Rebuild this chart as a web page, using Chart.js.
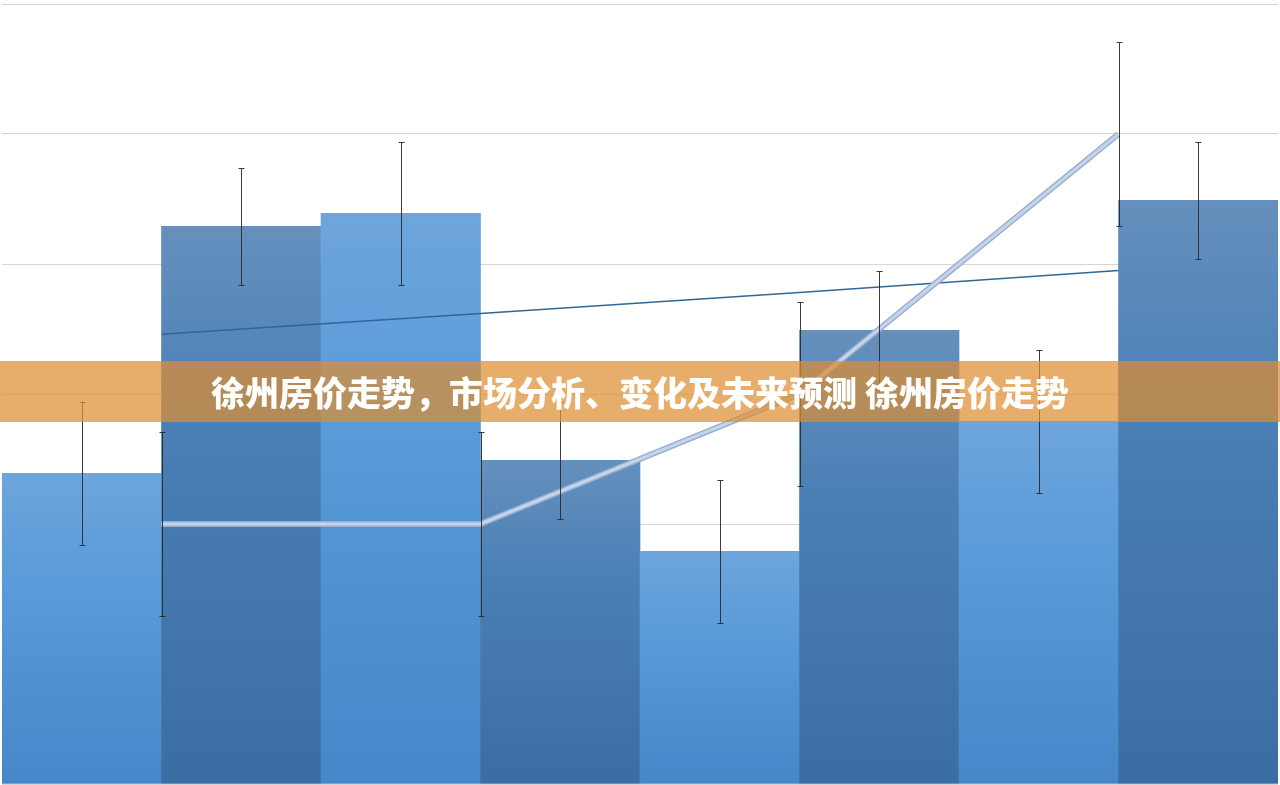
<!DOCTYPE html>
<html>
<head>
<meta charset="utf-8">
<script src="https://cdn.jsdelivr.net/npm/chart.js@4.4.1/dist/chart.umd.min.js"></script>
<style>
    html, body { margin: 0; padding: 0; background: #ffffff; }
    #wrap { position: relative; width: 1280px; height: 785px; overflow: hidden; }
    #banner {
        position: absolute; left: 0; top: 361px; width: 1280px; height: 61px;
        background: rgba(220, 142, 50, 0.72);
        color: #ffffff; text-align: center; line-height: 61px;
        font-family: "Noto Sans CJK SC", "Noto Sans", sans-serif;
        font-weight: 900; font-size: 34px; white-space: nowrap;
    }
</style>
</head>
<body>
<div id="wrap">
    <canvas id="myChart" width="1280" height="785"></canvas>
    <div id="banner">徐州房价走势，市场分析、变化及未来预测 徐州房价走势</div>
</div>
<script>
//DATA
const barPositions = [0, 1, 2, 3, 4, 5, 6, 7];
const barValues = [2.39, 4.29, 4.39, 2.49, 1.79, 3.49, 2.79, 4.49];
const barErrors = [0.55, 0.45, 0.55, 0.45, 0.55, 0.46, 0.55, 0.45];

// line series sit on the bar boundaries (every second one)
const linePositions = [0.5, 2.5, 4.5, 6.5];
const lineValues = [2.0, 2.0, 3.0, 5.0];
const lineErrors = [0.71, 0.71, 0.71, 0.71];
const trendValues = [3.46, 3.62, 3.78, 3.95];

const yTicks = [0, 1, 2, 3, 4, 5, 6];


//BAR GRADIENT PER BAR
const barGradient = (context) => {
    const chart = context.chart;
    const { ctx, chartArea, scales } = chart;
    if (!chartArea) return '#5a9bd9';
    const value = barValues[context.dataIndex];
    const top = scales.y.getPixelForValue(value);
    const bottom = scales.y.getPixelForValue(0);
    const g = ctx.createLinearGradient(0, top, 0, bottom);
    if (context.dataIndex % 2 === 0) {
        g.addColorStop(0, '#6ea5dc');
        g.addColorStop(0.35, '#5a9bd9');
        g.addColorStop(1, '#4587c8');
    } else {
        g.addColorStop(0, '#6590bd');
        g.addColorStop(0.35, '#4b80b6');
        g.addColorStop(1, '#3a6da3');
    }
    return g;
}


//ERROR BARS PLUGIN
const errorBars = {
    id: 'errorBars',
    afterDatasetsDraw(chart) {
        const { ctx, scales } = chart;
        const cap = 3;

        const drawOne = (pos, value, err) => {
            const yTop = Math.round(scales.y.getPixelForValue(value + err)) + 0.5;
            const yBot = Math.round(scales.y.getPixelForValue(value - err)) + 0.5;
            const xx = Math.round(scales.x.getPixelForValue(pos)) + 0.5;
            ctx.beginPath();
            ctx.moveTo(xx, yTop);
            ctx.lineTo(xx, yBot);
            ctx.moveTo(xx - cap, yTop);
            ctx.lineTo(xx + cap, yTop);
            ctx.moveTo(xx - cap, yBot);
            ctx.lineTo(xx + cap, yBot);
            ctx.stroke();
        }

        ctx.save();
        ctx.strokeStyle = 'rgba(40, 40, 40, 0.9)';
        ctx.lineWidth = 1;
        for (let i = 0; i < barValues.length; i++) {
            drawOne(barPositions[i], barValues[i], barErrors[i]);
        }
        for (let i = 0; i < lineValues.length; i++) {
            drawOne(linePositions[i], lineValues[i], lineErrors[i]);
        }
        ctx.restore();
    }
}


const toPoints = (xs, values) => values.map((v, i) => ({ x: xs[i], y: v }));

const ctx = document.getElementById('myChart');

new Chart(ctx, {
    type: 'bar',
    data: {
        datasets: [
            {
                type: 'line',
                label: 'linea clara',
                data: toPoints(linePositions, lineValues),
                borderColor: '#c4d5eb',
                borderWidth: 3,
                pointRadius: 0,
                tension: 0,
                order: 1
            },
            {
                type: 'line',
                label: 'linea borde',
                data: toPoints(linePositions, lineValues),
                borderColor: '#98aecd',
                borderWidth: 6,
                pointRadius: 0,
                tension: 0,
                order: 2
            },
            {
                type: 'line',
                label: 'tendencia',
                data: toPoints(linePositions, trendValues),
                borderColor: '#2f6796',
                borderWidth: 1.5,
                pointRadius: 0,
                tension: 0,
                order: 3
            },
            {
                type: 'bar',
                label: 'precio',
                data: toPoints(barPositions, barValues),
                backgroundColor: barGradient,
                borderWidth: 0,
                barPercentage: 1,
                categoryPercentage: 1,
                order: 4
            }
        ]
    },
    options: {
        responsive: false,
        animation: false,
        layout: { padding: { top: 4, left: 2, right: 2, bottom: 1 } },
        plugins: {
            legend: { display: false },
            tooltip: { enabled: false }
        },
        scales: {
            x: {
                type: 'linear',
                display: false,
                offset: false,
                min: -0.5,
                max: 7.5,
                grid: { offset: false },
                afterBuildTicks: (scale) => {
                    scale.ticks = barPositions.map(v => ({ value: v }));
                }
            },
            y: {
                min: yTicks[0],
                max: yTicks[yTicks.length - 1],
                afterBuildTicks: (scale) => {
                    scale.ticks = yTicks.map(v => ({ value: v }));
                },
                ticks: { display: false },
                border: { display: false },
                grid: {
                    color: '#d6d6d6',
                    lineWidth: 1,
                    drawTicks: false
                }
            }
        }
    },
    plugins: [errorBars]
});
</script>
</body>
</html>
